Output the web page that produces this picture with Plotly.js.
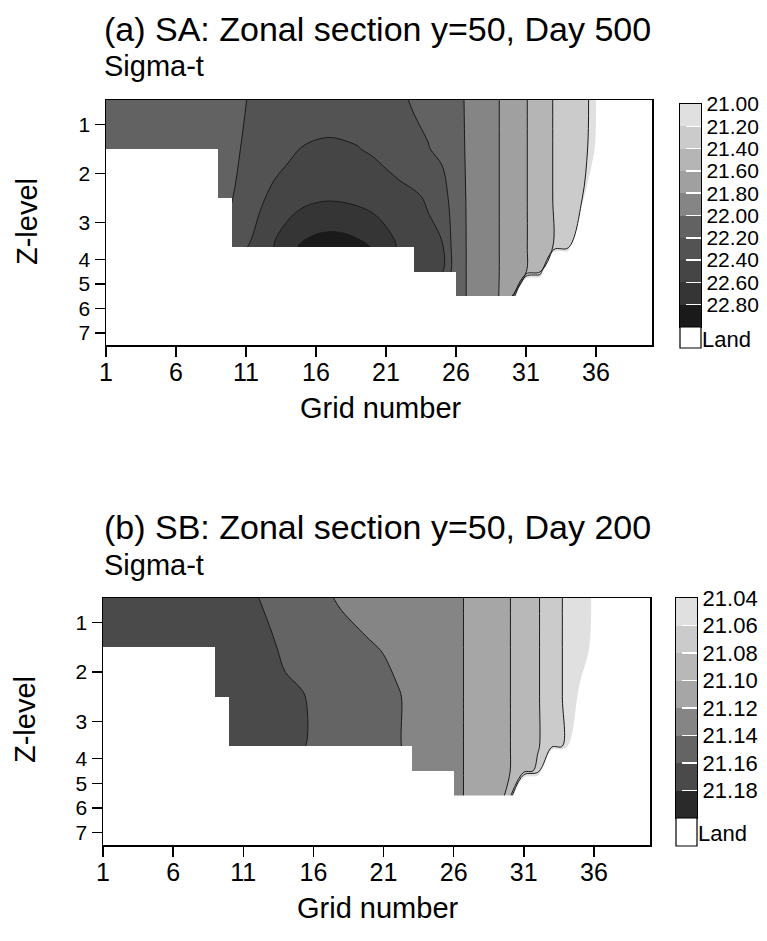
<!DOCTYPE html>
<html><head><meta charset="utf-8">
<script src="https://cdn.plot.ly/plotly-3.0.1.min.js"></script>
<style>html,body{margin:0;padding:0;background:#fff}#chart{width:767px;height:941px}</style>
</head><body><div id="chart"></div>
<script>
// ---------- shared grid ----------
const gridX = [1,2,3,4,5,6,7,8,9,10,11,12,13,14,15,16,17,18,19,20,21,22,23,24,25,26,27,28,29,30,31,32,33,34,35,36,37,38,39,40];
const depthRows = [0, 50, 100, 150, 175, 200];           // depth of data rows
const layerEdges = [0, 50, 100, 150, 175, 200, 225, 250]; // z-level interfaces
const levelCenters = [25, 75, 125, 162.5, 187.5, 212.5, 237.5];
const levelLabels = ['1','2','3','4','5','6','7'];
const xTicks = [1, 6, 11, 16, 21, 26, 31, 36];
// land extends from x=1 to this grid number, per z-level (0 = no land)
const landEndA = [0, 9, 10, 23, 26, 40, 40];
const landEndB = [0, 9, 10, 23, 26, 40, 40];

// ---------- (a) SA, Day 500 : sigma-t ----------
const saRow0   = [22.10,22.10,22.11,22.11,22.12,22.13,22.14,22.15,22.16,22.18,22.198,22.24,22.28,22.31,22.33,22.335,22.335,22.33,22.32,22.30,22.27,22.23,22.18,22.14,22.10,22.04,21.97,21.89,21.81,21.70,21.61,21.50,21.39,21.375,21.36,21.02,19.5,19.5,19.5,19.5];
const saRow50  = [22.12,22.12,22.13,22.13,22.14,22.15,22.16,22.17,22.175,22.185,22.21,22.26,22.31,22.36,22.405,22.415,22.42,22.415,22.405,22.38,22.34,22.29,22.25,22.21,22.15,22.05,21.97,21.89,21.81,21.70,21.61,21.50,21.39,21.375,21.36,20.96,19.5,19.5,19.5,19.5];
const saRow100 = [22.13,22.13,22.14,22.14,22.15,22.15,22.16,22.16,22.17,22.195,22.26,22.37,22.45,22.50,22.54,22.57,22.58,22.57,22.55,22.52,22.49,22.46,22.43,22.38,22.30,22.07,21.97,21.89,21.81,21.70,21.61,21.50,21.39,21.33,21.25,19.5,19.5,19.5,19.5,19.5];
const saRow150 = [22.2,22.2,22.2,22.2,22.2,22.2,22.2,22.2,22.2,22.30,22.39,22.48,22.60,22.72,22.83,22.88,22.90,22.89,22.85,22.79,22.68,22.57,22.50,22.45,22.42,22.08,21.97,21.89,21.81,21.70,21.61,21.50,21.39,21.30,19.5,19.5,19.5,19.5,19.5,19.5];
const saRow175 = [22.5,22.5,22.5,22.5,22.5,22.5,22.5,22.5,22.5,22.5,22.5,22.5,22.5,22.5,22.5,22.5,22.5,22.5,22.5,22.5,22.5,22.5,22.55,22.50,22.42,22.08,21.97,21.89,21.81,21.70,21.61,21.44,19.5,19.5,19.5,19.5,19.5,19.5,19.5,19.5];
const saRow200 = [22.2,22.2,22.2,22.2,22.2,22.2,22.2,22.2,22.2,22.2,22.2,22.2,22.2,22.2,22.2,22.2,22.2,22.2,22.2,22.2,22.2,22.2,22.2,22.2,22.2,22.08,21.97,21.89,21.81,21.62,19.5,19.5,19.5,19.5,19.5,19.5,19.5,19.5,19.5,19.5];
const saBarEdges = [21.0,21.2,21.4,21.6,21.8,22.0,22.2,22.4,22.6,22.8,23.0];
// fill greys: below first level, then each band
const saGreys = ['#ffffff','#e0e0e0','#cbcbcb','#b5b5b5','#a0a0a0','#858585','#626262','#535353','#454545','#353535','#1a1a1a'];

// ---------- (b) SB, Day 200 : sigma-t ----------
const sbRow0   = [21.176,21.175,21.174,21.173,21.172,21.171,21.170,21.169,21.168,21.167,21.165,21.1605,21.156,21.152,21.148,21.145,21.1415,21.138,21.135,21.132,21.130,21.128,21.126,21.124,21.122,21.1207,21.1197,21.114,21.108,21.1005,21.090,21.082,21.066,21.058,21.052,21.037,20.9,20.9,20.9,20.9];
const sbRow50  = [21.177,21.176,21.175,21.174,21.173,21.172,21.171,21.170,21.169,21.168,21.166,21.164,21.162,21.157,21.154,21.151,21.148,21.146,21.144,21.1415,21.139,21.132,21.128,21.125,21.123,21.1207,21.1197,21.114,21.108,21.1005,21.090,21.082,21.066,21.058,21.050,21.035,20.9,20.9,20.9,20.9];
const sbRow100 = [21.178,21.177,21.177,21.176,21.175,21.174,21.173,21.172,21.171,21.170,21.168,21.166,21.165,21.163,21.1615,21.158,21.156,21.154,21.152,21.149,21.146,21.1425,21.1335,21.128,21.124,21.1207,21.1197,21.114,21.108,21.1005,21.090,21.082,21.066,21.058,21.036,20.9,20.9,20.9,20.9,20.9];
const sbRow150 = [21.175,21.175,21.175,21.175,21.175,21.175,21.175,21.175,21.175,21.172,21.170,21.168,21.166,21.164,21.1615,21.158,21.156,21.154,21.152,21.149,21.146,21.1425,21.1335,21.128,21.124,21.1207,21.1197,21.114,21.108,21.1005,21.090,21.082,21.066,21.058,20.9,20.9,20.9,20.9,20.9,20.9];
const sbRow175 = [21.15,21.15,21.15,21.15,21.15,21.15,21.15,21.15,21.15,21.15,21.15,21.15,21.15,21.15,21.15,21.15,21.15,21.15,21.15,21.15,21.15,21.15,21.135,21.128,21.124,21.1207,21.1197,21.114,21.108,21.1005,21.090,21.075,20.9,20.9,20.9,20.9,20.9,20.9,20.9,20.9];
const sbRow200 = [21.15,21.15,21.15,21.15,21.15,21.15,21.15,21.15,21.15,21.15,21.15,21.15,21.15,21.15,21.15,21.15,21.15,21.15,21.15,21.15,21.15,21.15,21.15,21.15,21.15,21.1207,21.1197,21.114,21.108,21.095,20.9,20.9,20.9,20.9,20.9,20.9,20.9,20.9,20.9,20.9];
const sbBarEdges = [21.04,21.06,21.08,21.10,21.12,21.14,21.16,21.18,21.20];
const sbGreys = ['#ffffff','#e0e0e0','#cbcbcb','#b8b8b8','#a6a6a6','#858585','#646464','#4a4a4a','#2a2a2a'];

// ---------- helpers ----------
const W = 767, H = 941;
const fx = v => v / W, fy = v => 1 - v / H;
const FONT = 'Liberation Sans, Arial, Helvetica, sans-serif';

function stepScale(greys) {
  const n = greys.length - 1;
  return greys.map((c, k) => [k / n, c]);
}
function landMask(landEnd) {
  return landEnd.map(end => gridX.slice(0, -1).map(x => (x + 1 <= end ? 1 : null)));
}
function panelTraces(rows, edges, greys, landEnd, ax) {
  const z = rows;
  const step = edges[1] - edges[0];
  const start = edges[0], end = edges[edges.length - 2];
  const cs = stepScale(greys);
  const mids = edges.slice(0, -1).map((e, i) => [(e + edges[i + 1]) / 2]);
  return [
    { type: 'contour', x: gridX, y: depthRows, z: z, xaxis: ax[0], yaxis: ax[1],
      autocontour: false, contours: { start: start, end: end, size: step, coloring: 'fill', showlines: false },
      colorscale: cs, showscale: false, line: { width: 0 }, hoverinfo: 'skip' },
    { type: 'contour', x: gridX, y: depthRows, z: z, xaxis: ax[0], yaxis: ax[1],
      autocontour: false, contours: { start: start + step, end: end, size: step, coloring: 'none' },
      line: { color: '#1a1a1a', width: 1 }, showscale: false, hoverinfo: 'skip' },
    { type: 'heatmap', x: gridX, y: layerEdges, z: landMask(landEnd), xaxis: ax[2], yaxis: ax[3],
      colorscale: [[0, '#ffffff'], [1, '#ffffff']], showscale: false, hoverinfo: 'skip' },
    { type: 'heatmap', x: [0, 1], y: edges, z: mids, xaxis: ax[4], yaxis: ax[5],
      zmin: start - step / 2, zmax: end + step / 2, colorscale: cs, showscale: false, hoverinfo: 'skip' }
  ];
}

const traces = [].concat(
  panelTraces([saRow0, saRow50, saRow100, saRow150, saRow175, saRow200], saBarEdges, saGreys, landEndA,
              ['x', 'y', 'x2', 'y2', 'x3', 'y3']),
  panelTraces([sbRow0, sbRow50, sbRow100, sbRow150, sbRow175, sbRow200], sbBarEdges, sbGreys, landEndB,
              ['x4', 'y4', 'x5', 'y5', 'x6', 'y6'])
);

function mainX(d0, d1, anchor) {
  return { domain: [fx(d0), fx(d1)], range: [1, 40], anchor: anchor, tickvals: xTicks,
    ticks: 'outside', ticklen: 10, tickwidth: 1.5, tickcolor: '#000', showticklabels: false,
    showline: true, mirror: true, linecolor: '#000', linewidth: 1.5,
    showgrid: false, zeroline: false, fixedrange: true };
}
function mainY(top, bottom, anchor) {
  return { domain: [fy(bottom), fy(top)], range: [250, 0], anchor: anchor,
    tickvals: levelCenters, ticktext: levelLabels,
    ticks: 'outside', ticklen: 10, tickwidth: 1.5, tickcolor: '#000',
    showline: true, mirror: true, linecolor: '#000', linewidth: 1.5,
    showgrid: false, zeroline: false, tickfont: { size: 21, color: '#000' }, fixedrange: true };
}
// overlay axes: carry the land mask above the contours, and the x tick labels
function overX(base, anchor) {
  return { overlaying: base, anchor: anchor, range: [1, 40], tickvals: xTicks, ticks: '', ticklabelstandoff: 10,
    showline: false, showgrid: false, zeroline: false, tickfont: { size: 25, color: '#000' }, fixedrange: true };
}
function overY(base, anchor) { return { overlaying: base, anchor: anchor, range: [250, 0], visible: false, fixedrange: true }; }
function barX(l, r, anchor) {
  return { domain: [fx(l), fx(r)], range: [0, 1], anchor: anchor, showline: true, mirror: true,
    linecolor: '#000', linewidth: 1.2, ticks: '', showticklabels: false, showgrid: false, zeroline: false, fixedrange: true };
}
function barY(top, bottom, edges, anchor, fsize) {
  const lv = edges.slice(0, -1);
  return { domain: [fy(bottom), fy(top)], range: [edges[edges.length - 1], edges[0]], anchor: anchor, side: 'right',
    tickvals: lv, ticktext: lv.map(v => v.toFixed(2)), ticks: 'inside', ticklen: 15, tickwidth: 1.5, tickcolor: '#fff',
    showline: true, mirror: true, linecolor: '#000', linewidth: 1.2, showgrid: false, zeroline: false,
    tickfont: { size: fsize, color: '#000' }, fixedrange: true };
}

function ann(text, xPx, yPx, size, opts) {
  return Object.assign({ text: text, xref: 'paper', yref: 'paper', x: fx(xPx), y: fy(yPx),
    xanchor: 'left', yanchor: 'middle', showarrow: false, font: { size: size, color: '#000', family: FONT } }, opts || {});
}

const layout = {
  width: W, height: H, margin: { l: 0, r: 0, t: 0, b: 0 },
  paper_bgcolor: '#fff', plot_bgcolor: '#fff', showlegend: false,
  font: { family: FONT, color: '#000' },
  xaxis: mainX(106, 652, 'y'), yaxis: mainY(100, 345, 'x'),
  xaxis2: overX('x', 'y2'), yaxis2: overY('y', 'x2'),
  xaxis3: barX(680, 701, 'y3'), yaxis3: barY(104, 327, saBarEdges, 'x3', 21),
  xaxis4: mainX(103, 650, 'y4'), yaxis4: mainY(598, 845, 'x4'),
  xaxis5: overX('x4', 'y5'), yaxis5: overY('y4', 'x5'),
  xaxis6: barX(676, 697, 'y6'), yaxis6: barY(598, 818, sbBarEdges, 'x6', 22),
  shapes: [
    { type: 'rect', xref: 'paper', yref: 'paper', x0: fx(680), x1: fx(701), y0: fy(348), y1: fy(327),
      line: { color: '#000', width: 1.2 }, fillcolor: '#fff' },
    { type: 'rect', xref: 'paper', yref: 'paper', x0: fx(676), x1: fx(697), y0: fy(846), y1: fy(818),
      line: { color: '#000', width: 1.2 }, fillcolor: '#fff' }
  ],
  annotations: [
    ann('(a) SA: Zonal section y=50, Day 500', 102, 29, 34),
    ann('Sigma-t', 102, 66, 29),
    ann('Z-level', 27, 222, 29, { textangle: -90, xanchor: 'center' }),
    ann('Grid number', 381, 408, 29, { xanchor: 'center' }),
    ann('Land', 700, 339, 22),
    ann('(b) SB: Zonal section y=50, Day 200', 102, 527, 34),
    ann('Sigma-t', 102, 565, 29),
    ann('Z-level', 25, 720, 29, { textangle: -90, xanchor: 'center' }),
    ann('Grid number', 378, 908, 29, { xanchor: 'center' }),
    ann('Land', 696, 833, 22)
  ]
};

Plotly.newPlot('chart', traces, layout, { staticPlot: true, displayModeBar: false });
</script>
</body></html>
